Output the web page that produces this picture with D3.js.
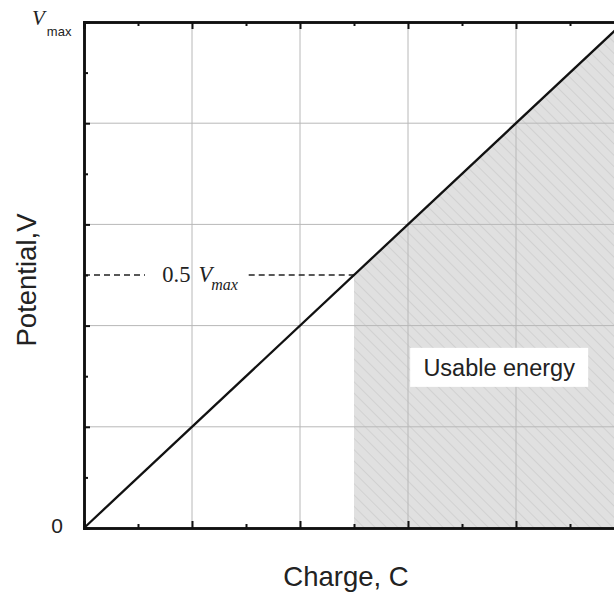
<!DOCTYPE html>
<html>
<head>
<meta charset="utf-8">
<script src="https://cdn.jsdelivr.net/npm/d3@7"></script>
<style>
  body { margin: 0; background: #fff; }
</style>
</head>
<body>
<script>
// line V = C, shaded usable region from 0.5 to 1
var lineData = [[0, 0], [1, 1]];
var usableFrom = 0.5;
var majorTicks = [0, 0.2, 0.4, 0.6, 0.8, 1.0];
var minorTicks = [0.1, 0.3, 0.5, 0.7, 0.9];
var halfLevel = 0.5;

var margin = {top: 22, right: -10, bottom: 65, left: 84},
    width = 614 - margin.left - margin.right,
    height = 593 - margin.top - margin.bottom;

var svg = d3.select("body")
  .append("svg")
    .attr("width", 614)
    .attr("height", 593);

var defs = svg.append("defs");
var pat = defs.append("pattern")
  .attr("id", "hatch")
  .attr("patternUnits", "userSpaceOnUse")
  .attr("width", 8).attr("height", 8)
  .attr("patternTransform", "rotate(-45)");
pat.append("rect").attr("width", 8).attr("height", 8).attr("fill", "#e0e0e0");
pat.append("line").attr("x1", 0).attr("y1", 0).attr("x2", 0).attr("y2", 8)
  .attr("stroke", "#c2c2c2").attr("stroke-width", 1);

var g = svg.append("g")
  .attr("transform", "translate(" + margin.left + "," + margin.top + ")");

var x = d3.scaleLinear().domain([0, 1]).range([0, width]);
var y = d3.scaleLinear().domain([0, 1]).range([height, 0]);

// shaded area under the line
var area = d3.area()
  .x(d => x(d))
  .y0(height)
  .y1(d => y(d));
g.append("path")
  .datum([usableFrom, 1])
  .attr("d", area)
  .attr("fill", "url(#hatch)");

// grid
g.selectAll(".vgrid").data(majorTicks.slice(1, -1)).enter().append("line")
  .attr("x1", d => x(d)).attr("x2", d => x(d))
  .attr("y1", 0).attr("y2", height)
  .attr("stroke", "#b8b8b8").attr("stroke-width", 1);
g.selectAll(".hgrid").data(majorTicks.slice(1, -1)).enter().append("line")
  .attr("x1", 0).attr("x2", width)
  .attr("y1", d => y(d)).attr("y2", d => y(d))
  .attr("stroke", "#b8b8b8").attr("stroke-width", 1);

// dashed guide at 0.5 Vmax
g.append("line")
  .attr("x1", x(0)).attr("x2", x(0.113))
  .attr("y1", y(halfLevel)).attr("y2", y(halfLevel))
  .attr("stroke", "#222").attr("stroke-width", 1.3).attr("stroke-dasharray", "6,4");
g.append("line")
  .attr("x1", x(0.305)).attr("x2", x(usableFrom))
  .attr("y1", y(halfLevel)).attr("y2", y(halfLevel))
  .attr("stroke", "#222").attr("stroke-width", 1.3).attr("stroke-dasharray", "6,4");

var lbl = g.append("text")
  .attr("x", x(0.145)).attr("y", y(halfLevel) + 7)
  .attr("font-family", "Liberation Serif, serif")
  .attr("font-size", 22.5).attr("fill", "#222");
lbl.append("tspan").text("0.5");
lbl.append("tspan").attr("font-style", "italic").attr("dx", 8).text("V");
lbl.append("tspan").attr("font-style", "italic").attr("font-size", 16).attr("dy", 8).attr("dx", -1).text("max");

// the line V = C
g.append("path")
  .datum(lineData)
  .attr("d", d3.line().x(d => x(d[0])).y(d => y(d[1])))
  .attr("fill", "none").attr("stroke", "#111").attr("stroke-width", 2.3);

// label box
g.append("rect")
  .attr("x", x(0.604)).attr("y", y(0.356))
  .attr("width", 178).attr("height", 39)
  .attr("fill", "#fff");
g.append("text")
  .attr("x", x(0.604) + 89).attr("y", y(0.356) + 28)
  .attr("text-anchor", "middle")
  .attr("font-family", "Liberation Sans, Arial, sans-serif")
  .attr("font-size", 23.5).attr("fill", "#222")
  .text("Usable energy");

// axes with inward ticks
var xB = d3.axisBottom(x).tickValues(majorTicks).tickSize(-7).tickFormat("");
var xBm = d3.axisBottom(x).tickValues(minorTicks).tickSize(-4).tickFormat("");
var xT = d3.axisTop(x).tickValues(majorTicks).tickSize(-7).tickFormat("");
var xTm = d3.axisTop(x).tickValues(minorTicks).tickSize(-4).tickFormat("");
var yL = d3.axisLeft(y).tickValues(majorTicks).tickSize(-6).tickFormat("");
var yLm = d3.axisLeft(y).tickValues(minorTicks).tickSize(-4).tickFormat("");

[[xB, "translate(0," + height + ")"], [xBm, "translate(0," + height + ")"],
 [xT, null], [xTm, null], [yL, null], [yLm, null]].forEach(function(a) {
  var ax = g.append("g").attr("transform", a[1]).call(a[0]);
  ax.selectAll("line").attr("stroke", "#111").attr("stroke-width", 2);
  ax.select(".domain").attr("stroke", "#111").attr("stroke-width", 2.5);
});

// y tick labels
g.append("text")
  .attr("x", -21).attr("y", height + 5)
  .attr("text-anchor", "end")
  .attr("font-family", "Liberation Sans, Arial, sans-serif")
  .attr("font-size", 21).attr("fill", "#222")
  .text("0");
var vm = g.append("text")
  .attr("x", -52).attr("y", 3)
  .attr("font-family", "Liberation Serif, serif")
  .attr("font-size", 21).attr("fill", "#222");
vm.append("tspan").attr("font-style", "italic").text("V");
vm.append("tspan").attr("font-family", "Liberation Sans, Arial, sans-serif")
  .attr("font-size", 13).attr("dy", 11).attr("dx", 2).text("max");

// axis titles
svg.append("text")
  .attr("x", 346).attr("y", 586)
  .attr("text-anchor", "middle")
  .attr("font-family", "Liberation Sans, Arial, sans-serif")
  .attr("font-size", 27.5).attr("fill", "#222")
  .text("Charge, C");
svg.append("text")
  .attr("transform", "translate(36,280) rotate(-90)")
  .attr("text-anchor", "middle")
  .attr("font-family", "Liberation Sans, Arial, sans-serif")
  .attr("font-size", 27.5).attr("fill", "#222")
  .text("Potential,V");
</script>
</body>
</html>
